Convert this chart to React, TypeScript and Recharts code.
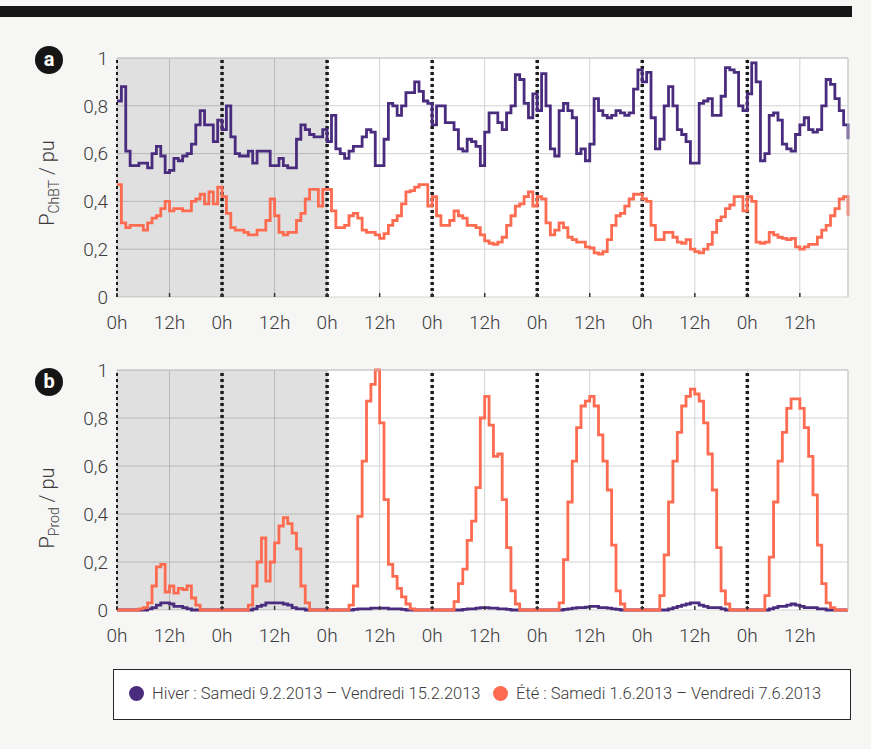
import { LineChart, Line, XAxis, YAxis, CartesianGrid, ReferenceArea, ReferenceLine } from "recharts";

// hourly values, 7 days (Sat -> Fri), index = hour from 0h on Saturday
const hiverCharge = [
  0.82, 0.88, 0.61, 0.55, 0.55, 0.56, 0.56, 0.54, 0.60, 0.63, 0.59, 0.52, 0.53, 0.58, 0.57, 0.59, 0.60, 0.64, 0.72, 0.78, 0.72, 0.72, 0.65, 0.74,
  0.70, 0.80, 0.67, 0.60, 0.59, 0.59, 0.61, 0.56, 0.61, 0.61, 0.61, 0.55, 0.55, 0.58, 0.55, 0.54, 0.54, 0.66, 0.72, 0.70, 0.68, 0.67, 0.67, 0.70,
  0.65, 0.76, 0.62, 0.60, 0.58, 0.61, 0.63, 0.63, 0.67, 0.70, 0.69, 0.55, 0.55, 0.66, 0.81, 0.80, 0.76, 0.80, 0.855, 0.855, 0.90, 0.86, 0.82, 0.81,
  0.72, 0.80, 0.80, 0.73, 0.73, 0.70, 0.62, 0.61, 0.66, 0.65, 0.63, 0.55, 0.69, 0.77, 0.77, 0.73, 0.70, 0.77, 0.80, 0.93, 0.91, 0.81, 0.75, 0.85,
  0.78, 0.935, 0.80, 0.62, 0.59, 0.78, 0.81, 0.78, 0.75, 0.60, 0.62, 0.57, 0.64, 0.83, 0.78, 0.76, 0.75, 0.76, 0.78, 0.77, 0.76, 0.77, 0.87, 0.95,
  0.90, 0.94, 0.75, 0.62, 0.66, 0.80, 0.88, 0.80, 0.70, 0.68, 0.65, 0.56, 0.56, 0.81, 0.82, 0.83, 0.76, 0.76, 0.84, 0.96, 0.95, 0.94, 0.80, 0.78,
  0.85, 0.98, 0.90, 0.57, 0.60, 0.76, 0.77, 0.74, 0.64, 0.62, 0.61, 0.68, 0.72, 0.75, 0.70, 0.69, 0.70, 0.80, 0.91, 0.89, 0.83, 0.78, 0.72, 0.66,
];

const eteCharge = [
  0.47, 0.31, 0.29, 0.30, 0.30, 0.30, 0.28, 0.31, 0.33, 0.34, 0.37, 0.40, 0.36, 0.37, 0.37, 0.36, 0.36, 0.40, 0.41, 0.43, 0.39, 0.44, 0.39, 0.46,
  0.42, 0.35, 0.29, 0.28, 0.28, 0.27, 0.26, 0.26, 0.28, 0.28, 0.32, 0.41, 0.34, 0.27, 0.26, 0.27, 0.27, 0.32, 0.35, 0.41, 0.45, 0.45, 0.38, 0.45,
  0.45, 0.36, 0.29, 0.29, 0.30, 0.34, 0.35, 0.33, 0.28, 0.27, 0.27, 0.26, 0.245, 0.265, 0.30, 0.32, 0.34, 0.39, 0.44, 0.445, 0.46, 0.47, 0.47, 0.38,
  0.42, 0.34, 0.30, 0.30, 0.32, 0.36, 0.34, 0.33, 0.30, 0.30, 0.29, 0.26, 0.235, 0.225, 0.22, 0.23, 0.25, 0.30, 0.34, 0.38, 0.39, 0.42, 0.44, 0.38,
  0.42, 0.41, 0.31, 0.26, 0.28, 0.31, 0.29, 0.25, 0.24, 0.23, 0.23, 0.21, 0.205, 0.185, 0.18, 0.19, 0.24, 0.30, 0.34, 0.35, 0.38, 0.41, 0.43, 0.43,
  0.41, 0.40, 0.30, 0.24, 0.24, 0.27, 0.27, 0.25, 0.23, 0.225, 0.24, 0.20, 0.19, 0.185, 0.20, 0.22, 0.27, 0.32, 0.335, 0.37, 0.385, 0.42, 0.42, 0.36,
  0.42, 0.40, 0.23, 0.225, 0.23, 0.27, 0.26, 0.25, 0.245, 0.24, 0.245, 0.21, 0.20, 0.21, 0.22, 0.22, 0.25, 0.28, 0.30, 0.34, 0.37, 0.41, 0.42, 0.34,
];

const hiverProd = [
  0, 0, 0, 0, 0, 0, 0, 0.005, 0.01, 0.02, 0.03, 0.03, 0.025, 0.015, 0.015, 0.01, 0.005, 0, 0, 0, 0, 0, 0, 0,
  0, 0, 0, 0, 0, 0, 0, 0.005, 0.015, 0.02, 0.03, 0.03, 0.03, 0.03, 0.025, 0.02, 0.01, 0.005, 0.005, 0, 0, 0, 0, 0,
  0, 0, 0, 0, 0, 0, 0.003, 0.005, 0.005, 0.005, 0.008, 0.008, 0.008, 0.008, 0.005, 0.005, 0.005, 0.003, 0, 0, 0, 0, 0, 0,
  0, 0, 0, 0, 0, 0, 0, 0.003, 0.005, 0.005, 0.008, 0.01, 0.01, 0.008, 0.008, 0.005, 0.005, 0.003, 0, 0, 0, 0, 0, 0,
  0, 0, 0, 0, 0, 0, 0.003, 0.005, 0.008, 0.01, 0.01, 0.012, 0.015, 0.015, 0.01, 0.01, 0.008, 0.005, 0.003, 0, 0, 0, 0, 0,
  0, 0, 0, 0, 0, 0, 0.005, 0.01, 0.015, 0.02, 0.025, 0.03, 0.03, 0.02, 0.015, 0.01, 0.01, 0.01, 0.005, 0, 0, 0, 0, 0,
  0, 0, 0, 0, 0, 0.005, 0.01, 0.015, 0.015, 0.02, 0.025, 0.02, 0.015, 0.01, 0.01, 0.01, 0.005, 0.005, 0, 0, 0, 0, 0, 0,
];

const eteProd = [
  0, 0, 0, 0, 0, 0.005, 0.01, 0.03, 0.10, 0.18, 0.19, 0.075, 0.10, 0.07, 0.09, 0.085, 0.10, 0.05, 0.02, 0, 0, 0, 0, 0,
  0, 0, 0, 0, 0, 0, 0.02, 0.10, 0.20, 0.30, 0.12, 0.20, 0.28, 0.35, 0.385, 0.36, 0.32, 0.255, 0.10, 0.03, 0, 0, 0, 0,
  0, 0, 0, 0, 0, 0.02, 0.10, 0.39, 0.62, 0.87, 0.94, 1.0, 0.78, 0.46, 0.19, 0.14, 0.09, 0.055, 0.025, 0.005, 0, 0, 0, 0,
  0, 0, 0, 0, 0, 0.035, 0.11, 0.17, 0.29, 0.37, 0.51, 0.80, 0.89, 0.77, 0.64, 0.65, 0.46, 0.26, 0.08, 0.025, 0, 0, 0, 0,
  0, 0, 0, 0, 0, 0.03, 0.21, 0.45, 0.62, 0.76, 0.85, 0.87, 0.89, 0.85, 0.73, 0.62, 0.50, 0.27, 0.08, 0.025, 0, 0, 0, 0,
  0, 0, 0, 0, 0.06, 0.23, 0.45, 0.62, 0.74, 0.85, 0.89, 0.92, 0.90, 0.87, 0.78, 0.65, 0.50, 0.26, 0.08, 0.025, 0, 0, 0, 0,
  0, 0, 0, 0, 0.06, 0.22, 0.45, 0.62, 0.74, 0.84, 0.88, 0.88, 0.84, 0.76, 0.64, 0.48, 0.27, 0.11, 0.03, 0.01, 0, 0, 0, 0,
];

const hours = hiverCharge.map((_, i) => i);
const xTicks = [0, 12, 24, 36, 48, 60, 72, 84, 96, 108, 120, 132, 144, 156];
const midnights = [24, 48, 72, 96, 120, 144];
const yTicks = [0, 0.2, 0.4, 0.6, 0.8, 1];

const chargeData = hours.map((h) => ({ h, hiver: hiverCharge[h], ete: eteCharge[h] }));
const prodData = hours.map((h) => ({ h, hiver: hiverProd[h], ete: eteProd[h] }));

const VIOLET = "#4a2c7f";
const ORANGE = "#fd6b50";
const TXT = "#3c3c3c";
const FONT = "Roboto, 'Open Sans', sans-serif";

const fmtX = (v: number) => (v % 24 === 0 ? "0h" : "12h");
const fmtY = (v: number) => (v === 0 ? "0" : v === 1 ? "1" : v.toFixed(1).replace(".", ","));

// rotated y title with subscript, centred at a fixed height in the chart
function AxisTitle({ sub, cy }: { sub: string; cy: number }) {
  const cx = 54;
  return (
    <text
      x={cx}
      y={cy}
      transform={`rotate(-90 ${cx} ${cy})`}
      textAnchor="middle"
      fill={TXT}
      fontSize={20}
      fontWeight={300}
      fontFamily={FONT}
    >
      P
      <tspan fontSize={14} dy={5}>{sub}</tspan>
      <tspan dy={-5}> / pu</tspan>
    </text>
  );
}

function Panel({ data, sub, height, marginTop, axisHeight, titleY }: any) {
  return (
    <LineChart
      width={871}
      height={height}
      data={data}
      margin={{ top: marginTop, right: 23, bottom: 0, left: 0 }}
    >
      <CartesianGrid stroke="#d2d2d2" strokeWidth={1} fill="#ffffff" />
      <ReferenceArea x1={0} x2={48} fill="#000000" fillOpacity={0.12} stroke="none" />
      <XAxis
        dataKey="h"
        type="number"
        domain={[0, 167]}
        ticks={xTicks}
        tickFormatter={fmtX}
        height={axisHeight}
        axisLine={false}
        tickLine={{ stroke: "#333", strokeWidth: 1.5 }}
        tickSize={-4}
        tickMargin={23}
        interval={0}
        tick={{ fill: TXT, fontSize: 19, fontWeight: 300, fontFamily: FONT }}
      />
      <XAxis
        xAxisId="top"
        orientation="top"
        dataKey="h"
        type="number"
        domain={[0, 167]}
        ticks={xTicks}
        mirror
        tick={false}
        tickSize={4}
        axisLine={{ stroke: "#c8c8c8" }}
        tickLine={{ stroke: "#333", strokeWidth: 1.5 }}
      />
      <YAxis
        domain={[0, 1]}
        ticks={yTicks}
        tickFormatter={fmtY}
        width={117}
        axisLine={false}
        tickLine={false}
        tickSize={0}
        tickMargin={9}
        interval={0}
        tick={{ fill: TXT, fontSize: 19, fontWeight: 300, fontFamily: FONT }}
        label={{ content: () => <AxisTitle sub={sub} cy={titleY} /> }}
      />
      <YAxis
        yAxisId="right"
        orientation="right"
        domain={[0, 1]}
        ticks={yTicks}
        mirror
        tick={false}
        tickSize={4}
        axisLine={{ stroke: "#c8c8c8" }}
        tickLine={{ stroke: "#333", strokeWidth: 1.5 }}
      />
      <ReferenceLine x={0} stroke="#1c1c1c" strokeWidth={2} strokeDasharray="3 3" />
      {midnights.map((m) => (
        <ReferenceLine key={m} x={m} stroke="#1c1c1c" strokeWidth={3.5} strokeDasharray="3 3" />
      ))}
      <Line type="stepAfter" dataKey="hiver" stroke={VIOLET} strokeWidth={2.8} dot={false} isAnimationActive={false} />
      <Line type="stepAfter" dataKey="ete" stroke={ORANGE} strokeWidth={2.8} dot={false} isAnimationActive={false} />
    </LineChart>
  );
}

function Badge({ letter, top }: { letter: string; top: number }) {
  return (
    <div
      style={{
        position: "absolute",
        left: 35,
        top,
        width: 28,
        height: 28,
        borderRadius: "50%",
        background: "#151515",
        color: "#fff",
        fontFamily: FONT,
        fontWeight: 700,
        fontSize: 20,
        lineHeight: "27px",
        textAlign: "center",
      }}
    >
      {letter}
    </div>
  );
}

function LegendItem({ color, label, left }: { color: string; label: string; left: number }) {
  return (
    <div style={{ position: "absolute", left, top: 14, display: "flex", alignItems: "center" }}>
      <span style={{ width: 15, height: 15, borderRadius: "50%", background: color, display: "inline-block" }} />
      <span
        style={{
          marginLeft: 8,
          fontFamily: FONT,
          fontWeight: 300,
          fontSize: 16.5,
          letterSpacing: 0,
          color: TXT,
          whiteSpace: "nowrap",
        }}
      >
        {label}
      </span>
    </div>
  );
}

export default function App() {
  return (
    <div
      style={{
        position: "absolute",
        left: 0,
        top: 0,
        width: 871,
        height: 749,
        background: "#f6f6f5",
        overflow: "hidden",
      }}
    >
      <div style={{ position: "absolute", left: 0, top: 6, width: 852, height: 11, background: "#161616" }} />
      <div style={{ position: "absolute", left: 0, top: 0 }}>
        <Panel data={chargeData} sub="ChBT" height={345} marginTop={58} axisHeight={48} titleY={183} />
      </div>
      <div style={{ position: "absolute", left: 0, top: 345 }}>
        <Panel data={prodData} sub="Prod" height={311} marginTop={25} axisHeight={46} titleY={163} />
      </div>
      <Badge letter="a" top={46} />
      <Badge letter="b" top={368} />
      <div
        style={{
          position: "absolute",
          left: 113,
          top: 669,
          width: 738,
          height: 51,
          border: "1.5px solid #262626",
          background: "#ffffff",
          boxSizing: "border-box",
        }}
      >
        <LegendItem color={VIOLET} label="Hiver : Samedi 9.2.2013 – Vendredi 15.2.2013" left={15} />
        <LegendItem color={ORANGE} label="Été : Samedi 1.6.2013 – Vendredi 7.6.2013" left={379} />
      </div>
    </div>
  );
}
